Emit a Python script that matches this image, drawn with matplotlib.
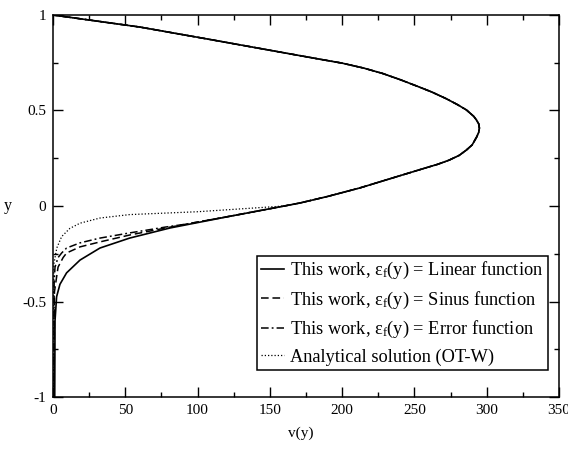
import matplotlib
matplotlib.use("Agg")
from matplotlib import pyplot as plt
from matplotlib.ticker import MultipleLocator

plt.rcParams['font.family'] = ['Liberation Serif', 'DejaVu Serif']
plt.rcParams['mathtext.fontset'] = 'custom'
plt.rcParams['mathtext.rm'] = 'Liberation Serif'
plt.rcParams['mathtext.it'] = 'Liberation Serif:italic'

# upper branch shared by all profiles (y from 0 to 1)
y_upper = [0.0, 0.016, 0.05, 0.094, 0.147, 0.2, 0.218, 0.24, 0.265, 0.293, 0.32, 0.36,
           0.385, 0.408, 0.43, 0.45, 0.47, 0.503, 0.53, 0.562, 0.597, 0.627, 0.662,
           0.694, 0.722, 0.748, 0.768, 0.806, 0.87, 0.937, 1.0]
v_upper = [160, 171, 190, 212, 235, 258, 266, 274, 281, 286, 290, 293,
           294.5, 295, 294.5, 293, 291, 286, 280, 272, 262, 252, 240,
           228, 215, 200, 185, 157, 110, 60, 0]

# lower part, linear function
y_lin = [-1.0, -0.6, -0.475, -0.41, -0.35, -0.283, -0.22, -0.168, -0.115, -0.05]
v_lin = [1.2, 1.4, 2.5, 4.8, 9.4, 18.7, 32.5, 53, 81, 125]

# lower part, sinus function
y_sin = [-1.0, -0.45, -0.32, -0.27, -0.246, -0.214, -0.188, -0.152, -0.112, -0.095, -0.05]
v_sin = [0.8, 1.0, 3.5, 7.0, 9.4, 18.7, 32.5, 53, 80, 92, 125]

# lower part, error function
y_erf = [-1.0, -0.4, -0.32, -0.27, -0.246, -0.22, -0.193, -0.168, -0.141, -0.11, -0.095, -0.05]
v_erf = [0.6, 0.8, 1.4, 3.5, 6.0, 9.4, 18.7, 32.5, 53, 78, 92, 125]

# analytical solution (OT-W), lower part
y_otw = [-1.0, -0.4, -0.3, -0.22, -0.16, -0.117, -0.09, -0.063, -0.045, -0.03, -0.01]
v_otw = [0.4, 0.5, 0.7, 2.6, 6.0, 11.7, 18.7, 32.5, 53, 100, 140]

fig = plt.figure(figsize=(5.68, 4.49), dpi=100)
ax = fig.add_axes([0.0933, 0.1158, 0.8907, 0.8508])

ax.plot(v_lin + v_upper, y_lin + y_upper, color='black', lw=1.2, ls='-',
        label=r'This work, ε$_\mathrm{f}$(y) = Linear function')
ax.plot(v_sin + v_upper, y_sin + y_upper, color='black', lw=1.1, ls=(0, (5, 2.5)),
        label=r'This work, ε$_\mathrm{f}$(y) = Sinus function')
ax.plot(v_erf + v_upper, y_erf + y_upper, color='black', lw=1.1, ls=(0, (5, 2, 1.2, 2)),
        label=r'This work, ε$_\mathrm{f}$(y) = Error function')
ax.plot(v_otw + v_upper, y_otw + y_upper, color='black', lw=0.9, ls=(0, (1, 1.6)),
        label='Analytical solution (OT-W)')

ax.set_xlim(0, 350)
ax.set_ylim(-1, 1)
ax.xaxis.set_minor_locator(MultipleLocator(25))
ax.yaxis.set_minor_locator(MultipleLocator(0.25))
ax.set_xticks([0, 50, 100, 150, 200, 250, 300, 350])
ax.set_xticklabels(['0', '50', '100', '150', '200', '250', '300', '350'])
ax.set_yticks([-1, -0.5, 0, 0.5, 1])
ax.set_yticklabels(['-1', '-0.5', '0', '0.5', '1'])
ax.tick_params(which='both', direction='in', top=True, right=True, labelsize=11, width=1.0)
ax.tick_params(which='major', length=7.5, pad=5)
ax.tick_params(which='minor', length=3.8)
for s in ax.spines.values():
    s.set_linewidth(1.1)

ax.set_xlabel('v(y)', fontsize=11, va='center')
ax.xaxis.set_label_coords(0.49, -0.094)
ax.set_ylabel('y', fontsize=11.5, rotation=0, va='center', ha='center')
ax.yaxis.set_label_coords(-0.089, 0.5)

leg = ax.legend(loc='lower right', bbox_to_anchor=(0.978, 0.07), fontsize=13.2,
                frameon=True, fancybox=False, edgecolor='black', framealpha=1,
                handlelength=1.25, handletextpad=0.3, labelspacing=0.45,
                borderpad=0.25, borderaxespad=0)
leg.get_frame().set_linewidth(1.1)

fig.savefig('out.png', dpi=100)
